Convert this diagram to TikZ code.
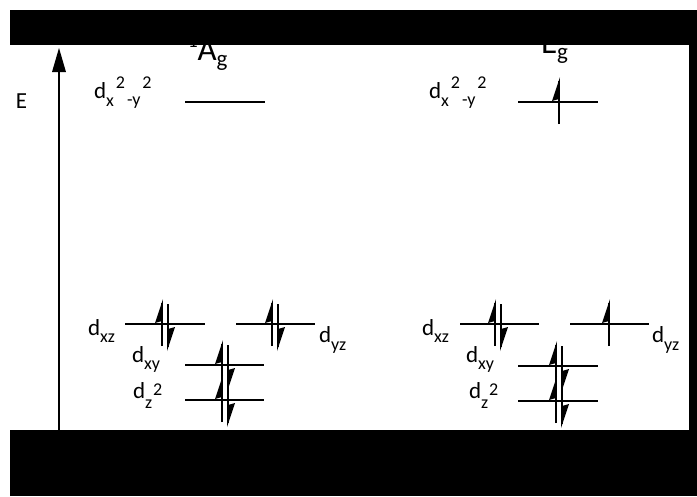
\documentclass[tikz,border=0pt]{standalone}
\usepackage{fontspec}
\setmainfont{Carlito}
\newcommand{\sbx}[2]{\raisebox{#1}{\fontsize{18}{18}\selectfont #2}}
\newcommand{\spinup}[2]{%
  \draw[lv] ({#1},{#2+22}) -- ({#1},{#2-21});
  \fill ({#1+1},{#2-25}) -- ({#1-7},{#2-1}) -- ({#1},{#2-3}) -- cycle;}
\newcommand{\spindown}[2]{%
  \draw[lv] ({#1},{#2-20}) -- ({#1},{#2+23});
  \fill ({#1-1},{#2+27}) -- ({#1+7},{#2+3}) -- ({#1},{#2+5}) -- cycle;}
\begin{document}
\begin{tikzpicture}[x=1pt,y=-1pt,
  lv/.style={line width=1.9pt},
  lab/.style={anchor=base west,inner sep=0pt,outer sep=0pt,font=\fontsize{23}{23}\selectfont},
  ttl/.style={anchor=base west,inner sep=0pt,outer sep=0pt,font=\fontsize{33}{33}\selectfont}]
\useasboundingbox (0,0) rectangle (697,496);
\fill[white] (0,0) rectangle (697,496);
% energy axis
\node[lab,font=\fontsize{23}{23}\selectfont] (E) at (16,108) {E};
\coordinate (axb) at (59,430);
\coordinate (axt) at (59,70);
\draw[lv] (axb) -- (axt);
\fill (59,48) -- (52,72) -- (66,72) -- cycle;
% titles
\node[ttl] (t1) at (188,60) {\raisebox{13pt}{\fontsize{19}{19}\selectfont 1}A\raisebox{-6pt}{\fontsize{23}{23}\selectfont g}};
\node[ttl] (t2) at (541,53) {E\raisebox{-6pt}{\fontsize{23}{23}\selectfont g}};
% ---------- left: 1Ag ----------
\node[lab] (lx2) at (94,98) {d\sbx{-8pt}{x}\hspace{2pt}\sbx{10pt}{2}\hspace{2pt}\sbx{-7pt}{-y}\hspace{2pt}\sbx{10pt}{2}};
\draw[lv] (185,102) -- (265,102);
\node[lab] (lxz) at (88,335) {d\sbx{-7pt}{xz}};
\draw[lv] (125,324) -- (205,324);
\spinup{162}{324}\spindown{168}{324}
\draw[lv] (236,324) -- (315,324);
\spinup{272}{324}\spindown{278}{324}
\node[lab] (lyz) at (319,342) {d\sbx{-8pt}{yz}};
\node[lab] (lxy) at (132,362) {d\sbx{-7pt}{xy}};
\draw[lv] (185,365) -- (264,365);
\spinup{222}{365}\spindown{228}{365}
\node[lab] (lz2) at (133,398) {d\sbx{-10pt}{z}\hspace{1pt}\sbx{3pt}{2}};
\draw[lv] (185,400) -- (264,400);
\spinup{222}{400}\spindown{228}{400}
% ---------- right: Eg ----------
\node[lab] (rx2) at (429,98) {d\sbx{-8pt}{x}\hspace{2pt}\sbx{10pt}{2}\hspace{2pt}\sbx{-7pt}{-y}\hspace{2pt}\sbx{10pt}{2}};
\draw[lv] (518,102) -- (598,102);
\spinup{559}{102}
\node[lab] (rxz) at (422,335) {d\sbx{-7pt}{xz}};
\draw[lv] (460,324) -- (539,324);
\spinup{495}{324}\spindown{501}{324}
\draw[lv] (570,324) -- (649,324);
\spinup{609}{324}
\node[lab] (ryz) at (652,342) {d\sbx{-8pt}{yz}};
\node[lab] (rxy) at (466,362) {d\sbx{-7pt}{xy}};
\draw[lv] (518,366) -- (598,366);
\spinup{556}{366}\spindown{562}{366}
\node[lab] (rz2) at (469,398) {d\sbx{-10pt}{z}\hspace{1pt}\sbx{3pt}{2}};
\draw[lv] (518,401) -- (598,401);
\spinup{556}{401}\spindown{562}{401}
% black frame bands
\fill[black] (10,10) rectangle (697,45);
\fill[black] (689,10) rectangle (697,430);
\fill[black] (10,430) rectangle (697,496);
\end{tikzpicture}
\end{document}
